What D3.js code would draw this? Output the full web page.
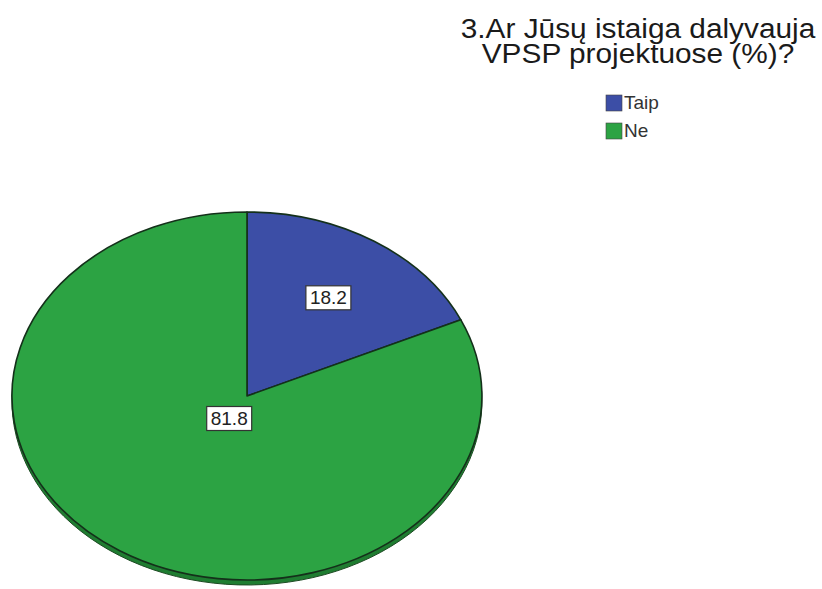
<!DOCTYPE html>
<html><head><meta charset="utf-8">
<script src="https://cdn.jsdelivr.net/npm/d3@7"></script>
<style>
body{margin:0;background:#fff;}
svg{display:block;}
</style></head>
<body>
<svg id="c" width="822" height="589"></svg>
<script>
const categories = ["Taip", "Ne"];
const values = [18.2, 81.8];
const valueLabels = ["18.2", "81.8"];
const titleLines = ["3.Ar Jūsų istaiga dalyvauja", "VPSP projektuose (%)?"];

const colors = d3.scaleOrdinal().domain(categories).range(["#3c4ea6", "#2ca343"]);
const sideColors = d3.scaleOrdinal().domain(categories).range(["#2a3a80", "#1f7d31"]);

const svg = d3.select("#c");
const W = 822, H = 589;
const cx = 247, cy = 396, rx = 235, ry = 184, depth = 5;
const labelRadius = [0.64, 0.14];
const narrow = "'Liberation Sans Narrow','Arial Narrow',Arial,sans-serif";

svg.append("rect").attr("width", W).attr("height", H).attr("fill", "#fff");

const pie = d3.pie().sort(null).value(d => d.v);
const arcs = pie(categories.map((c, i) => ({c, v: values[i], label: valueLabels[i], i})));
const arc = d3.arc().innerRadius(0).outerRadius(1);

// side (depth)
const sideG = svg.append("g").attr("transform", `translate(${cx},${cy + depth}) scale(${rx},${ry})`);
sideG.selectAll("path").data(arcs).join("path")
  .attr("d", arc)
  .attr("fill", d => sideColors(d.data.c))
  .attr("stroke", "#1c4a22").attr("stroke-width", 1).attr("vector-effect", "non-scaling-stroke");

// top face
const faceG = svg.append("g").attr("transform", `translate(${cx},${cy}) scale(${rx},${ry})`);
faceG.selectAll("path").data(arcs).join("path")
  .attr("d", arc)
  .attr("fill", d => colors(d.data.c))
  .attr("stroke", "#14301a").attr("stroke-width", 1.6).attr("stroke-linejoin", "round")
  .attr("vector-effect", "non-scaling-stroke");

// value labels
const lab = svg.append("g");
arcs.forEach((d, i) => {
  const a = (d.startAngle + d.endAngle) / 2;
  const r = labelRadius[i];
  const x = cx + rx * r * Math.sin(a);
  const y = cy - ry * r * Math.cos(a);
  const g = lab.append("g").attr("transform", `translate(${x},${y})`);
  const t = g.append("text").text(d.data.label)
    .attr("text-anchor", "middle").attr("dy", "0.36em")
    .attr("font-family", narrow).attr("font-size", 19).attr("fill", "#222");
  const bb = t.node().getBBox();
  g.insert("rect", "text")
    .attr("x", bb.x - 4).attr("y", bb.y - 1).attr("width", bb.width + 8).attr("height", bb.height + 3)
    .attr("fill", "#fff").attr("stroke", "#333").attr("stroke-width", 1.2);
});

// title
const title = svg.append("text").attr("text-anchor", "middle")
  .attr("transform", "translate(638,0) scale(1.065,1)")
  .attr("font-family", "Arial, 'Liberation Sans', sans-serif").attr("font-size", 28).attr("fill", "#1a1a1a");
titleLines.forEach((l, i) => {
  title.append("tspan").attr("x", 0).attr("y", 38 + i * 25).text(l);
});

// legend
const leg = svg.append("g").attr("transform", "translate(606,95)");
const items = leg.selectAll("g").data(categories).join("g")
  .attr("transform", (d, i) => `translate(0,${i * 28})`);
items.append("rect").attr("width", 16).attr("height", 16)
  .attr("fill", d => colors(d)).attr("stroke", "#444").attr("stroke-width", 0.6);
items.append("text").attr("x", 18).attr("y", 14).text(d => d)
  .attr("font-family", narrow).attr("font-size", 19).attr("fill", "#333");
</script>
</body></html>
